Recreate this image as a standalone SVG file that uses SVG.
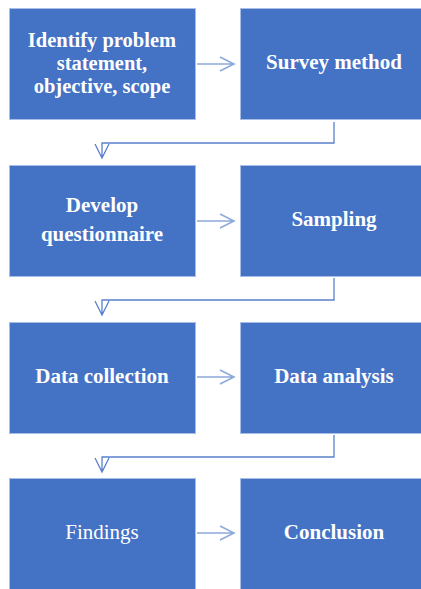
<svg xmlns="http://www.w3.org/2000/svg" width="421" height="589" viewBox="0 0 421 589">
<style>
.box{fill:#4472C4;stroke:#A9BEE6;stroke-width:1}
.t{fill:#FFFFFF;font-family:"Liberation Serif","Times New Roman",serif;font-size:21px;font-weight:bold;text-anchor:middle}
.s{font-size:20.5px}
.n{font-weight:normal}
.h{fill:none;stroke:#8EA9DB;stroke-width:1.6}
.e{fill:none;stroke:#5A80CC;stroke-width:1.3}
</style>
<rect width="421" height="589" fill="#FFFFFF"/>
<g id="n1"><rect class="box" x="9.5" y="8.5" width="186" height="111"/><text class="t s" x="102" y="46.5">Identify problem</text><text class="t s" x="102" y="69.5">statement,</text><text class="t s" x="102" y="92.5">objective, scope</text></g>
<g id="n2"><rect class="box" x="240.5" y="8.5" width="188" height="111"/><text class="t" x="334" y="69">Survey method</text></g>
<g id="n3"><rect class="box" x="9.5" y="165.5" width="186" height="111"/><text class="t" x="102" y="212">Develop</text><text class="t" x="102" y="241">questionnaire</text></g>
<g id="n4"><rect class="box" x="240.5" y="165.5" width="188" height="111"/><text class="t" x="334" y="226">Sampling</text></g>
<g id="n5"><rect class="box" x="9.5" y="322.5" width="186" height="111"/><text class="t" x="102" y="383">Data collection</text></g>
<g id="n6"><rect class="box" x="240.5" y="322.5" width="188" height="111"/><text class="t" x="334" y="383">Data analysis</text></g>
<g id="n7"><rect class="box" x="9.5" y="478.5" width="186" height="111"/><text class="t n" x="102" y="539">Findings</text></g>
<g id="n8"><rect class="box" x="240.5" y="478.5" width="188" height="111"/><text class="t" x="334" y="539">Conclusion</text></g>
<g id="connectors">
<path class="h" d="M197 64H234M220 57L234 64L220 71"/>
<path class="h" d="M197 221H234M220 214L234 221L220 228"/>
<path class="h" d="M197 377H234M220 370L234 377L220 384"/>
<path class="h" d="M197 533H234M220 526L234 533L220 540"/>
<path class="e" d="M334 122V143H102V158M95 144L102 158L109 144"/>
<path class="e" d="M334 278V300H102V315M95 301L102 315L109 301"/>
<path class="e" d="M334 435V457H102V472M95 458L102 472L109 458"/>
</g>
</svg>
